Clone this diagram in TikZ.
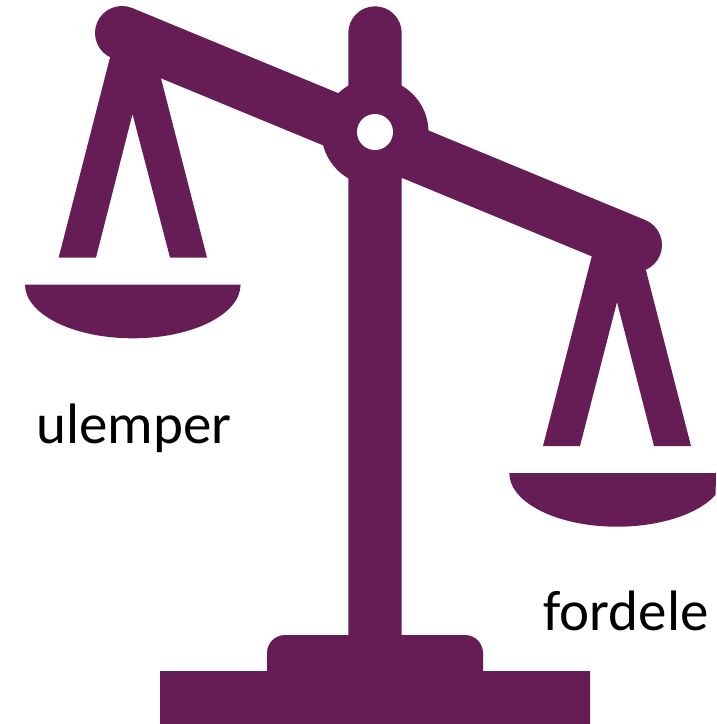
\documentclass[tikz,border=0pt]{standalone}
\usepackage{fontspec}
\setmainfont{Carlito}
\definecolor{plum}{HTML}{661C54}
\begin{document}
\begin{tikzpicture}[x=1pt,y=-1pt,
 shape fill/.style={fill=plum,draw=none},
 beam/.style={draw=plum,line width=#1,line cap=round},
 lab/.style={font=\fontsize{57}{60}\selectfont,text=black,inner sep=0pt,anchor=base}]
\path[use as bounding box] (0,0) rectangle (716,724);
% base
\fill[shape fill] (160,724) -- (160,671) -- (267,671) -- (267,653) arc[start angle=180,end angle=270,radius=18] -- (465,635) arc[start angle=270,end angle=360,radius=18] -- (483,671) -- (590,671) -- (590,724) -- cycle;
% post
\fill[shape fill] (348.3,640) -- (348.3,33) arc[start angle=180,end angle=360,radius=26.7] -- (401.7,640) -- cycle;
% beam
\draw[beam=54pt] (122,33) -- (635,245);
% hub
\fill[shape fill] (375,132) circle[radius=53.5];
\fill[white] (375,132) circle[radius=18];
% left hanger
\fill[shape fill] (115,38) -- (58.7,257.5) -- (96,257.5) -- (132.5,114) -- (170,257.5) -- (207,257.5) -- (155,55) -- cycle;
% right hanger
\fill[shape fill] (597,236) -- (543,446) -- (580,446) -- (617,302) -- (654,446) -- (691,446) -- (640,247) -- cycle;
% pans
\fill[shape fill] (25,284.5) arc[start angle=180,end angle=0,x radius=107.8,y radius=53.8] -- cycle;
\fill[shape fill] (509.3,473) arc[start angle=180,end angle=24,x radius=107.8,y radius=53.7] -- (716,473) -- cycle;
\node[lab] (ulemper) at (134,443.5) {ulemper};
\node[lab] (fordele) at (626,630) {fordele};
\end{tikzpicture}
\end{document}
